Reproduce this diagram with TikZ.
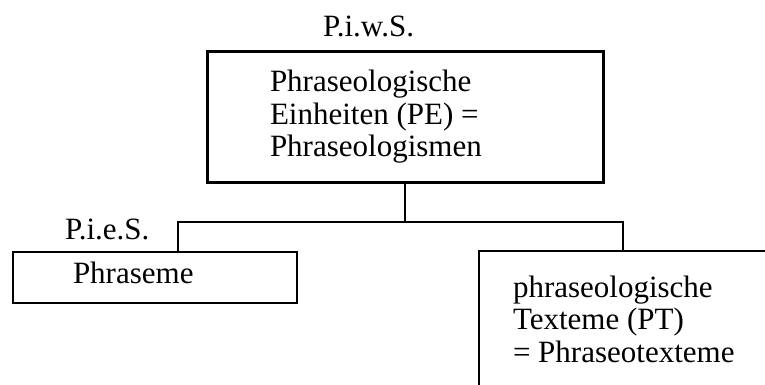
\documentclass[tikz,border=0pt]{standalone}
\usepackage{fontspec}
\setmainfont{Liberation Serif}
\begin{document}
\begin{tikzpicture}[x=1pt,y=-1pt,
  box/.style={draw, line width=2.2pt, inner sep=0pt, outer sep=0pt, anchor=north west},
  lbl/.style={anchor=base west, inner sep=0pt, outer sep=0pt, font=\fontsize{31}{32.5}\selectfont, align=left},
  conn/.style={line width=2.2pt}]
\path[use as bounding box, clip] (0,0) rectangle (765,385);
\fill[white] (0,0) rectangle (765,385);
% boxes
\node[box, line width=3pt, minimum width=396pt, minimum height=130pt] (pe) at (207,52) {};
\node[box, minimum width=284pt, minimum height=51pt] (phr) at (13,252) {};
\node[box, minimum width=320pt, minimum height=170pt] (pt) at (479,251) {};
% texts (multi-line nodes: base = last line's baseline)
\node[lbl] (piws) at (323,37) {P.i.w.S.};
\node[lbl] (petext) at (270,157) {Phraseologische\\Einheiten (PE) =\\Phraseologismen};
\node[lbl] (pies) at (65,239) {P.i.e.S.};
\node[lbl] (phrtext) at (73,283) {Phraseme};
\node[lbl] (pttext) at (513,362) {phraseologische\\Texteme (PT)\\= Phraseotexteme};
% connectors
\coordinate (bar) at (405,222);
\coordinate (lb) at (178,252);
\coordinate (rb) at (623,251);
\draw[conn] (pe.south) -- (bar);
\draw[conn] (lb) |- (bar) -| (rb);
\end{tikzpicture}
\end{document}
